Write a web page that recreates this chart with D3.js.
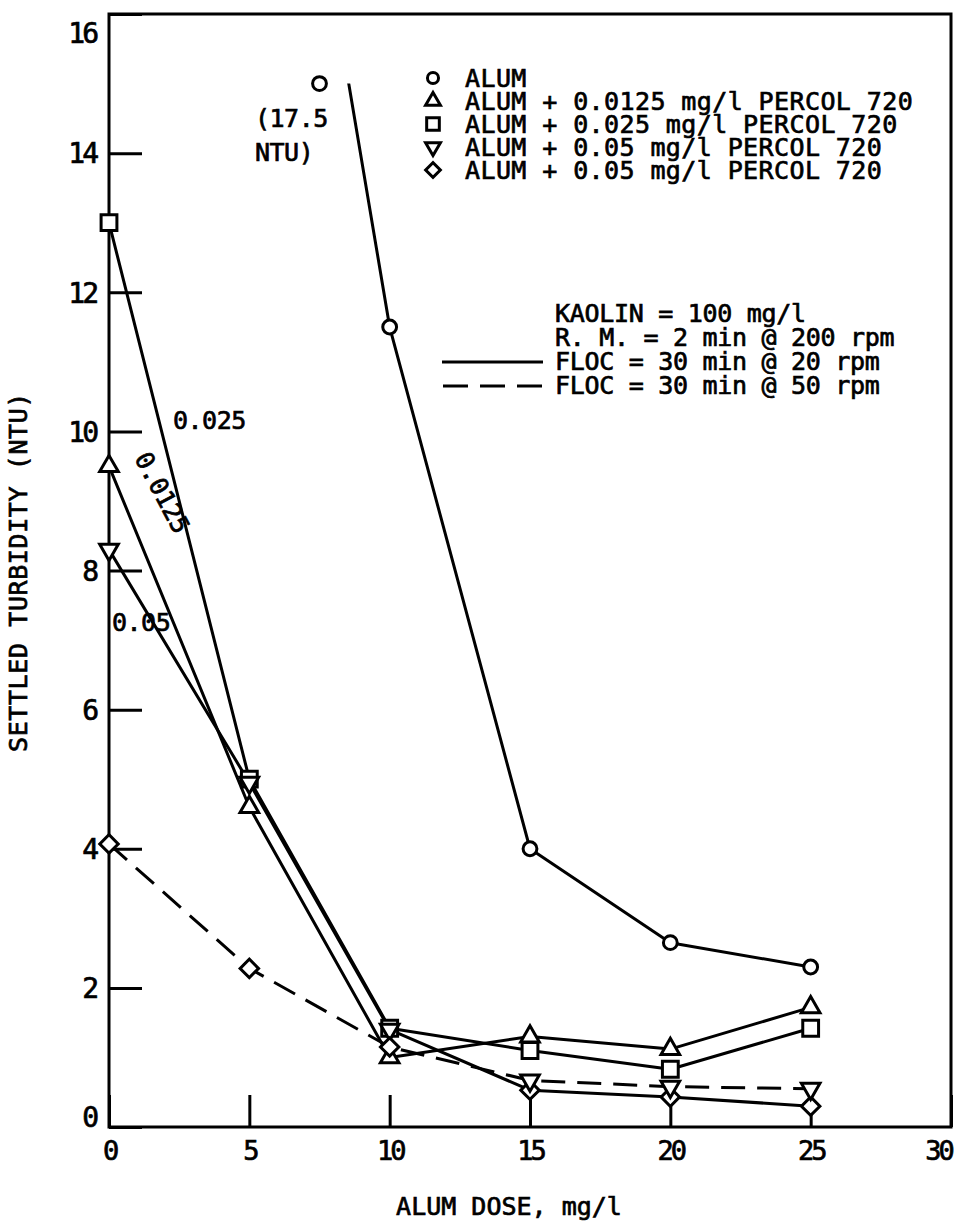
<!DOCTYPE html>
<html>
<head>
<meta charset="utf-8">
<script src="https://cdn.jsdelivr.net/npm/d3@7"></script>
<style>
  body { margin: 0; background: #fff; }
  text { font-family: "DejaVu Sans Mono", monospace; fill: #000; stroke: #000; stroke-width: 0.7px; }
</style>
</head>
<body>
<div id="chart"></div>
<script>
// values
const doses = [0, 5, 10, 15, 20, 25];
const alumDoses = [7.5, 10, 15, 20, 25];
const alumNTU = [17.5, 11.5, 4.0, 2.65, 2.3];   // first point is off scale (17.5 NTU)
const alumOffscale = [7.5, 15];                 // where the off-scale circle is drawn
const percol0125 = [9.5, 4.6, 1.0, 1.3, 1.12, 1.72];
const percol025 = [13.0, 5.0, 1.42, 1.1, 0.83, 1.42];
const percol05slow = [8.3, 4.95, 1.4, 0.53, 0.43, 0.3];
const percol05slowMarks = ["down", "down", "down", "diamond", "diamond", "diamond"];
const percol05fast = [4.07, 2.28, 1.15, 0.67, 0.58, 0.55];
const percol05fastMarks = ["diamond", "diamond", "diamond", "down", "down", "down"];

const yTicks = [0, 2, 4, 6, 8, 10, 12, 14, 16];
const xTicks = [0, 5, 10, 15, 20, 25, 30];

const legendItems = [
    {mark: "circle", label: "ALUM"},
    {mark: "up", label: "ALUM + 0.0125 mg/l PERCOL 720"},
    {mark: "square", label: "ALUM + 0.025 mg/l PERCOL 720"},
    {mark: "down", label: "ALUM + 0.05 mg/l PERCOL 720"},
    {mark: "diamond", label: "ALUM + 0.05 mg/l PERCOL 720"}
];
const conditions = ["KAOLIN = 100 mg/l", "R. M. = 2 min @ 200 rpm", "FLOC = 30 min @ 20 rpm", "FLOC = 30 min @ 50 rpm"];

const width = 957;
const height = 1227;
const margin = {top: 14, right: 6, bottom: 100, left: 109};

const svg = d3.select("#chart").append("svg")
    .attr("width", width)
    .attr("height", height);

const x = d3.scaleLinear().domain([0, 30]).range([margin.left, width - margin.right]);
const y = d3.scaleLinear().domain([0, 16]).range([height - margin.bottom, margin.top]);

// marker path generator
function markPath (type, s) {
    s = s || 1;
    if (type == "circle") return d3.symbol(d3.symbolCircle, 150 * s * s)();
    if (type == "square") return d3.symbol(d3.symbolSquare, 250 * s * s)();
    if (type == "diamond") return d3.symbol(d3.symbolSquare, 170 * s * s)();
    return d3.symbol(d3.symbolTriangle, 150 * s * s)();
}
function markRotate (type) {
    if (type == "down") return 180;
    if (type == "diamond") return 45;
    return 0;
}

// axes
function yAxis (g) {
    g.attr("transform", `translate(${margin.left},0)`)
        .call(d3.axisLeft(y).tickValues(yTicks).tickSizeInner(-33).tickSizeOuter(0).tickPadding(13).tickFormat(d3.format("d")))
        .call(g => g.select(".domain").remove())
        .attr("font-size", 28);
    g.selectAll(".tick line").attr("stroke", "#000").attr("stroke-width", 3);
    g.selectAll(".tick text").attr("letter-spacing", -3)
        .attr("dy", d => d == 16 ? "1.0em" : d == 0 ? "-0.02em" : "0.35em");
}

function xAxis (g) {
    g.attr("transform", `translate(0,${height - margin.bottom})`)
        .call(d3.axisBottom(x).tickValues(xTicks).tickSizeInner(-32).tickSizeOuter(0).tickPadding(14))
        .call(g => g.select(".domain").remove())
        .attr("font-size", 27);
    g.selectAll(".tick text").attr("letter-spacing", -3)
        .attr("x", d => d == 30 ? -13 : 0);
    g.selectAll(".tick line").attr("stroke", "#000").attr("stroke-width", 3);
}

svg.append("g").call(yAxis);
svg.append("g").call(xAxis);

svg.append("rect")
    .attr("x", x(0)).attr("y", y(16))
    .attr("width", x(30) - x(0)).attr("height", y(0) - y(16))
    .attr("fill", "none").attr("stroke", "#000").attr("stroke-width", 3);

svg.append("text")
    .attr("x", 509).attr("y", 1215)
    .attr("text-anchor", "middle")
    .attr("font-size", 25).attr("letter-spacing", 0)
    .text("ALUM DOSE, mg/l");

svg.append("text")
    .attr("transform", `translate(27,${572}) rotate(-90)`)
    .attr("text-anchor", "middle")
    .attr("font-size", 25).attr("letter-spacing", 0.6)
    .text("SETTLED TURBIDITY (NTU)");

// lines
const line = d3.line().x(d => x(d[0])).y(d => y(d[1]));

svg.append("clipPath").attr("id", "clip15")
    .append("rect")
    .attr("x", x(0)).attr("y", y(15))
    .attr("width", x(30) - x(0)).attr("height", y(0) - y(15));

const series = [
    {xs: alumDoses, ys: alumNTU, dash: null, marks: null, clip: true},
    {xs: doses, ys: percol0125, dash: null, marks: doses.map(() => "up")},
    {xs: doses, ys: percol025, dash: null, marks: doses.map(() => "square")},
    {xs: doses, ys: percol05slow, dash: null, marks: percol05slowMarks},
    {xs: doses, ys: percol05fast, dash: "24,12", marks: percol05fastMarks}
];

series.forEach(s => {
    let pts = s.xs.map((d, i) => [d, s.ys[i]]);
    let p = svg.append("path")
        .attr("d", line(pts))
        .attr("fill", "none")
        .attr("stroke", "#000")
        .attr("stroke-width", 3)
        .attr("stroke-linejoin", "round");
    if (s.dash) p.attr("stroke-dasharray", s.dash);
    if (s.clip) p.attr("clip-path", "url(#clip15)");
});

// markers
series.forEach(s => {
    let pts = s.xs.map((d, i) => ({x: d, y: s.ys[i], m: s.marks ? s.marks[i] : "circle"}))
        .filter(d => d.y <= 16);
    svg.append("g")
        .selectAll("path")
        .data(pts)
        .join("path")
        .attr("d", d => markPath(d.m))
        .attr("transform", d => `translate(${x(d.x)},${y(d.y)}) rotate(${markRotate(d.m)})`)
        .attr("fill", "#fff")
        .attr("stroke", "#000")
        .attr("stroke-width", 3);
});

svg.append("path")
    .attr("d", markPath("circle"))
    .attr("transform", `translate(${x(alumOffscale[0])},${y(alumOffscale[1])})`)
    .attr("fill", "#fff").attr("stroke", "#000").attr("stroke-width", 3);

// annotations
const notes = svg.append("g").attr("font-size", 25).attr("letter-spacing", -0.5);
notes.append("text").attr("x", 255).attr("y", 127).text("(17.5");
notes.append("text").attr("x", 255).attr("y", 161).text("NTU)");
notes.append("text").attr("x", 173).attr("y", 429).text("0.025");
notes.append("text").attr("x", 112).attr("y", 631).text("0.05");
notes.append("text")
    .attr("transform", "translate(134,458) rotate(62)")
    .text("0.0125");

// legend
const legend = svg.append("g").attr("font-size", 25).attr("letter-spacing", 0.4);
legendItems.forEach((d, i) => {
    let ly = 78 + i * 23;
    legend.append("path")
        .attr("d", markPath(d.mark, 0.8))
        .attr("transform", `translate(433,${ly}) rotate(${markRotate(d.mark)})`)
        .attr("fill", "#fff").attr("stroke", "#000").attr("stroke-width", 3);
    legend.append("text").attr("x", 465).attr("y", ly + 9).text(d.label);
});

conditions.forEach((c, i) => {
    legend.append("text").attr("x", 555).attr("y", 322 + i * 24).attr("letter-spacing", -0.3).text(c);
});
legend.append("line")
    .attr("x1", 442).attr("x2", 543).attr("y1", 362).attr("y2", 362)
    .attr("stroke", "#000").attr("stroke-width", 3);
legend.append("line")
    .attr("x1", 443).attr("x2", 543).attr("y1", 386).attr("y2", 386)
    .attr("stroke", "#000").attr("stroke-width", 3).attr("stroke-dasharray", "25,12");
</script>
</body>
</html>
